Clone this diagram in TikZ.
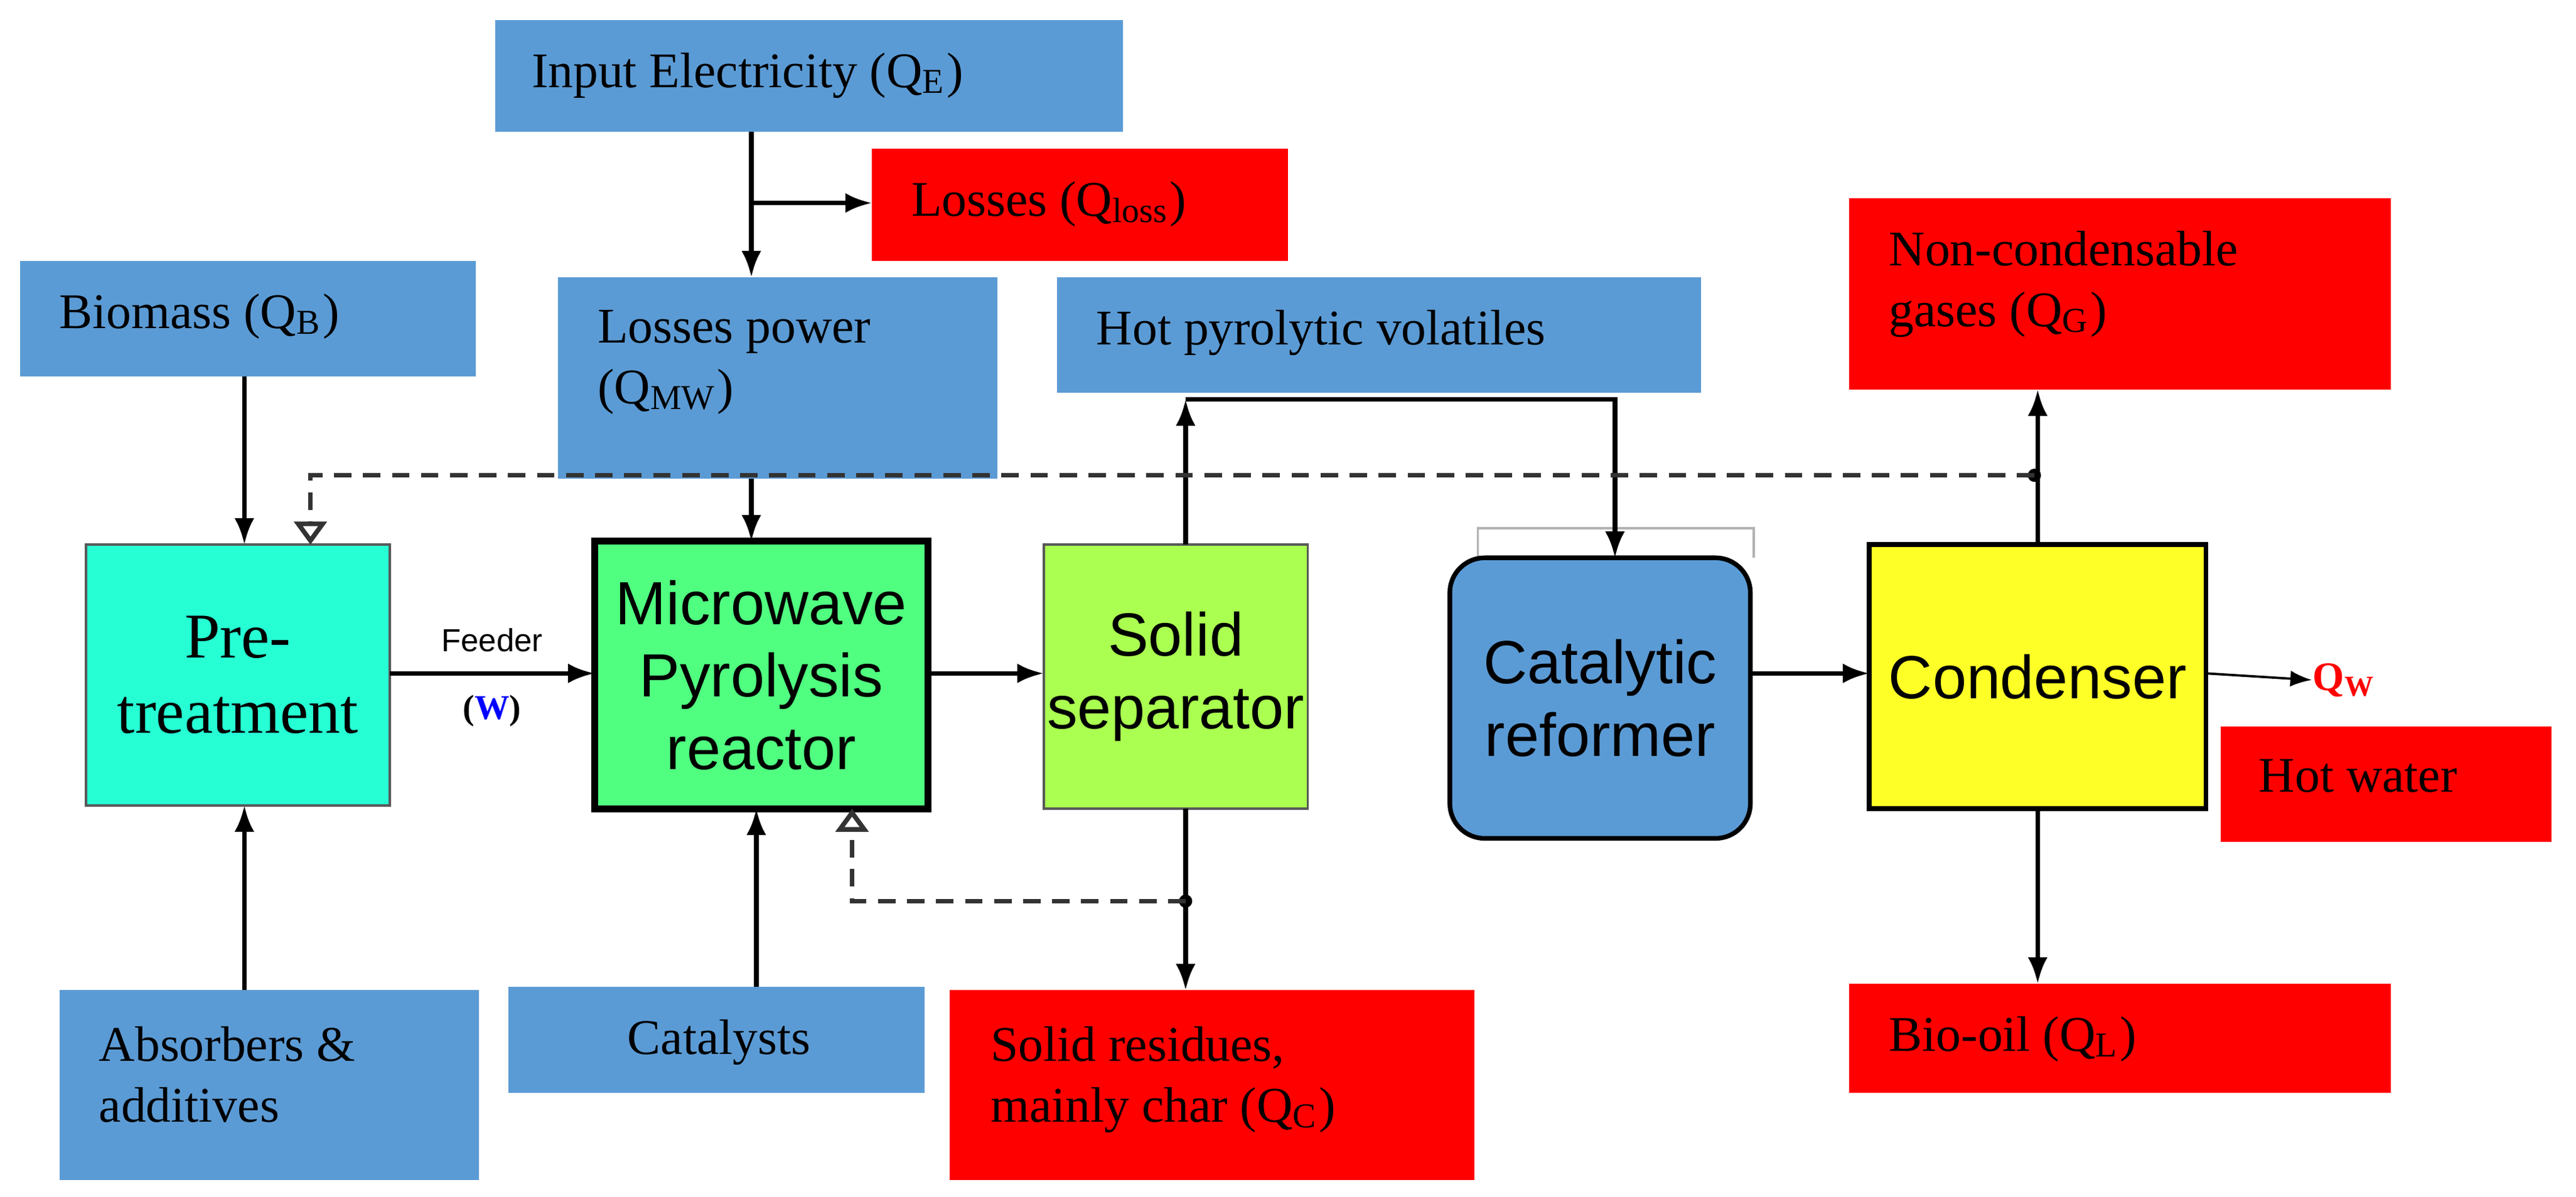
\documentclass[tikz,border=0pt]{standalone}
\usepackage{fontspec}
\setmainfont{Liberation Serif}
\newfontfamily\arialf{Liberation Sans}
\usetikzlibrary{arrows.meta}
\definecolor{boxblue}{RGB}{91,155,213}
\definecolor{boxred}{RGB}{255,0,0}
\definecolor{pretc}{RGB}{38,255,212}
\definecolor{reacc}{RGB}{80,255,128}
\definecolor{sepc}{RGB}{170,255,80}
\definecolor{condc}{RGB}{255,255,40}
\tikzset{
  lbl/.style={anchor=north west,inner sep=0pt,outer sep=0pt,align=left,font=\fontsize{8.6}{10.5}\selectfont},
  unit/.style={draw=gray!70!black,anchor=north west,inner sep=0pt,outer sep=0pt,align=center},
  flow/.style={thick,-{Latex[length=1.6mm]}},
  back/.style={thick,densely dashed,-{Triangle[open,length=1.4mm]}},
}
\begin{document}
\begin{tikzpicture}[x=0.1mm,y=-0.1mm]
  \useasboundingbox (0,0) rectangle (1560,725);
  % input boxes
  \fill[boxblue] (300,12) rectangle (680,80);
  \node[lbl] (elec) at (322,32) {Input Electricity (Q\textsubscript{E})};
  \fill[boxred] (528,90) rectangle (780,158);
  \node[lbl] (loss) at (552,110) {Losses (Q\textsubscript{loss})};
  \fill[boxblue] (12,158) rectangle (288,228);
  \node[lbl] (bio) at (36,178) {Biomass (Q\textsubscript{B})};
  \fill[boxblue] (338,168) rectangle (604,290);
  \node[lbl] (mw) at (362,188) {Losses power\\(Q\textsubscript{MW})};
  \fill[boxblue] (640,168) rectangle (1030,238);
  \node[lbl] (hot) at (664,188) {Hot pyrolytic volatiles};
  \fill[boxred] (1120,120) rectangle (1448,236);
  \node[lbl] (ncg) at (1144,140) {Non-condensable\\gases (Q\textsubscript{G})};
  \fill[boxblue] (36,600) rectangle (290,715);
  \node[lbl] (abs) at (60,622) {Absorbers \&\\additives};
  \fill[boxblue] (308,598) rectangle (560,662);
  \node[lbl] (cat) at (380,618) {Catalysts};
  \fill[boxred] (575,600) rectangle (893,715);
  \node[lbl] (res) at (600,622) {Solid residues,\\mainly char (Q\textsubscript{C})};
  \fill[boxred] (1120,596) rectangle (1448,662);
  \node[lbl] (oil) at (1144,616) {Bio-oil (Q\textsubscript{L})};
  \fill[boxred] (1345,440) rectangle (1545,510);
  \node[lbl] (hw) at (1368,460) {Hot water};
  % process units
  \node[unit,fill=pretc,minimum width=18.4mm,minimum height=15.8mm,font=\fontsize{11}{13}\selectfont] (pre) at (52,330) {Pre-\\treatment};
  \node[unit,fill=reacc,draw=black,line width=1.2pt,minimum width=20.2mm,minimum height=16.2mm,font=\arialf\fontsize{10.5}{12.5}\selectfont] (reac) at (360,328) {Microwave\\Pyrolysis\\reactor};
  \node[unit,fill=sepc,minimum width=16mm,minimum height=16mm,font=\arialf\fontsize{10.5}{12.5}\selectfont] (sep) at (632,330) {Solid\\separator};
  \draw[gray!60,thin] (895,338) |- (1062,320) -- (1062,338);
  \node[unit,fill=boxblue,draw=black,thick,rounded corners=6pt,minimum width=18.2mm,minimum height=17mm,font=\arialf\fontsize{10.5}{12.5}\selectfont] (ref) at (878,338) {Catalytic\\reformer};
  \node[unit,fill=condc,draw=black,thick,minimum width=20.4mm,minimum height=16mm,font=\arialf\fontsize{10.5}{12.5}\selectfont] (cond) at (1132,330) {Condenser};
  \node[inner sep=0pt,anchor=west,text=red,font=\bfseries\fontsize{7}{8}\selectfont] (qw) at (1400,412) {Q\textsubscript{W}};
  % energy and feed lines
  \draw[flow] (455,80) -- (455,168);
  \coordinate (split) at (455,123);
  \draw[flow] (split) -- (528,123);
  \draw[flow] (455,290) -- (reac.north -| 455,0);
  \draw[flow] (148,228) -- (pre.north -| 148,0);
  \draw[flow] (148,600) -- (pre.south -| 148,0);
  \draw[flow] (458,598) -- (reac.south -| 458,0);
  \draw[flow] (pre.east |- 0,408) -- node[above,font=\arialf\fontsize{5.5}{6}\selectfont]{Feeder} node[below,font=\bfseries\fontsize{6}{7}\selectfont]{(\textcolor{blue}{W})} (reac.west |- 0,408);
  \draw[flow] (reac.east |- 0,408) -- (sep.west |- 0,408);
  % volatiles
  \draw[flow] (sep.north -| 718,0) -- (718,242);
  \draw[flow] (718,242) -- (978,242) -- (ref.north -| 978,0);
  \draw[flow] (ref.east |- 0,408) -- (cond.west |- 0,408);
  \draw[flow] (cond.north -| 1234,0) -- (1234,236);
  \draw[flow] (cond.south -| 1234,0) -- (1234,596);
  \draw[thin,-{Latex[length=1.3mm]}] (cond.east |- 0,408) -- (qw.west);
  \draw[flow] (sep.south -| 718,0) -- (718,600);
  % recycle lines
  \coordinate (gasdot) at (1232,288);
  \coordinate (chardot) at (718,546);
  \fill (gasdot) circle (4);
  \fill (chardot) circle (4);
  \draw[back,gray!40!black] (gasdot) -- (188,288) -- (pre.north -| 188,0);
  \draw[back,gray!40!black] (chardot) -- (516,546) -- (reac.south -| 516,0);
\end{tikzpicture}
\end{document}
